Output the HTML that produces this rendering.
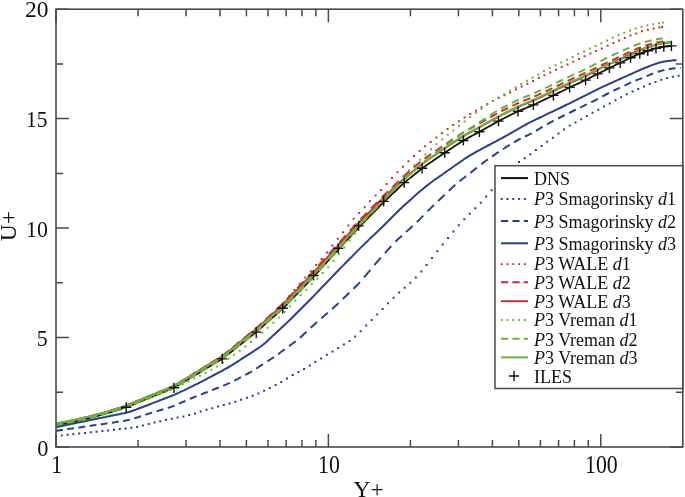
<!DOCTYPE html><html><head><meta charset="utf-8"><style>html,body{margin:0;padding:0;background:#fff;}svg{display:block;will-change:transform;}text{font-family:"Liberation Serif",serif;}</style></head><body>
<svg width="685" height="497" viewBox="0 0 685 497">
<rect width="685" height="497" fill="#fff"/>
<defs><clipPath id="c"><rect x="56.0" y="9.2" width="626.8" height="437.8"/></clipPath></defs>
<g clip-path="url(#c)">
<path d="M56.0,436.1h0M61.8,435.5h0M67.6,434.8h0M73.4,434.2h0M79.2,433.6h0M85.0,432.9h0M90.8,432.3h0M96.6,431.7h0M102.4,431.1h0M108.2,430.4h0M114.0,429.8h0M119.8,429.1h0M125.6,428.4h0M131.3,427.8h0M137.1,426.9h0M142.9,425.5h0M148.7,424.1h0M154.5,422.6h0M160.3,421.2h0M166.0,419.9h0M171.8,418.7h0M177.6,417.6h0M183.4,416.4h0M189.2,415.1h0M195.0,413.4h0M200.7,411.6h0M206.5,409.8h0M212.3,408.2h0M218.1,406.6h0M223.8,405.0h0M229.6,403.5h0M235.4,401.7h0M241.1,399.8h0M246.9,397.8h0M252.7,395.8h0M258.4,393.5h0M264.1,390.7h0M269.9,387.9h0M275.6,385.0h0M281.3,381.9h0M287.0,378.4h0M292.7,375.1h0M298.4,372.1h0M304.1,368.9h0M309.8,365.5h0M315.4,362.0h0M321.1,358.4h0M326.8,354.8h0M332.5,351.4h0M338.2,348.0h0M343.9,344.6h0M349.5,341.0h0M355.1,336.5h0M360.7,331.2h0M366.2,325.6h0M371.7,320.1h0M377.2,314.6h0M382.6,308.9h0M388.1,303.2h0M393.6,297.7h0M399.1,292.4h0M404.7,287.7h0M410.3,282.8h0M415.8,277.4h0M421.3,271.6h0M426.6,265.0h0M432.0,258.1h0M437.3,251.3h0M442.7,244.6h0M448.0,237.9h0M453.4,231.4h0M458.8,225.2h0M464.3,219.3h0M469.8,213.8h0M475.3,208.2h0M480.8,202.7h0M486.2,196.6h0M491.6,190.2h0M497.0,184.0h0M502.4,177.9h0M507.9,172.2h0M513.4,166.8h0M519.0,162.0h0M524.7,158.2h0M530.3,154.3h0M535.9,150.1h0M541.6,145.9h0M547.2,141.8h0M552.9,137.7h0M558.5,133.6h0M564.1,129.4h0M569.8,125.6h0M575.5,122.4h0M581.2,119.2h0M586.9,116.0h0M592.6,112.8h0M598.3,109.7h0M604.0,106.6h0M609.7,103.5h0M615.4,100.3h0M621.1,97.2h0M626.8,94.3h0M632.6,91.6h0M638.3,89.1h0M644.0,86.6h0M649.8,84.1h0M655.5,81.9h0M661.3,79.8h0M667.1,78.1h0M672.8,76.8h0M678.6,75.7h0" fill="none" stroke="#28418f" stroke-width="2.0" stroke-linecap="square"/>
<path d="M56.0,430.9 L58.0,430.6 L60.0,430.3 L62.0,430.0 L62.8,429.9 M67.2,429.3 L68.0,429.1 L70.0,428.8 L72.0,428.6 L74.0,428.3 M78.4,427.6 L80.0,427.4 L82.0,427.1 L84.0,426.8 L85.2,426.6 M89.6,426.0 L90.0,425.9 L92.0,425.6 L94.0,425.3 L96.0,425.0 L96.4,425.0 M100.7,424.3 L102.0,424.2 L104.0,423.9 L106.0,423.6 L107.5,423.3 M111.9,422.7 L112.0,422.7 L114.0,422.4 L116.0,422.1 L118.0,421.7 L118.7,421.6 M123.1,420.9 L124.0,420.8 L126.0,420.5 L128.0,420.1 L129.9,419.6 M134.3,418.4 L136.0,417.8 L138.0,417.2 L140.0,416.5 L141.0,416.2 M145.4,414.7 L146.0,414.5 L148.0,413.9 L150.0,413.3 L152.0,412.6 L152.2,412.6 M156.6,411.3 L158.0,410.9 L160.0,410.3 L162.0,409.7 L163.3,409.3 M167.7,408.0 L168.0,407.9 L170.0,407.3 L172.0,406.6 L174.0,405.8 L174.5,405.6 M178.8,403.7 L180.0,403.2 L182.0,402.3 L184.0,401.5 L185.5,400.8 M189.9,398.9 L190.0,398.9 L192.0,398.0 L194.0,397.2 L196.0,396.4 L196.6,396.2 M201.0,394.5 L202.0,394.1 L204.0,393.3 L206.0,392.5 L207.7,391.8 M212.1,390.1 L214.0,389.3 L216.0,388.5 L218.0,387.7 L218.8,387.4 M223.2,385.7 L224.0,385.4 L226.0,384.6 L228.0,383.7 L229.9,382.9 M234.3,380.7 L236.0,379.8 L238.0,378.8 L240.0,377.7 L241.0,377.2 M245.3,375.0 L246.0,374.6 L248.0,373.5 L250.0,372.4 L252.0,371.3 L252.0,371.3 M256.3,368.6 L258.0,367.5 L260.0,366.2 L262.0,364.9 L263.0,364.3 M267.3,361.4 L268.0,361.0 L270.0,359.7 L272.0,358.3 L273.9,357.1 M278.2,354.1 L280.0,352.8 L282.0,351.3 L284.0,349.8 L284.8,349.3 M289.1,346.1 L290.0,345.4 L292.0,344.0 L294.0,342.5 L295.7,341.2 M299.9,337.8 L300.0,337.7 L302.0,335.9 L304.0,334.1 L306.0,332.2 L306.4,331.8 M310.6,327.8 L312.0,326.5 L314.0,324.7 L316.0,322.9 L317.1,321.9 M321.3,318.3 L322.0,317.7 L324.0,316.0 L326.0,314.3 L327.9,312.7 M332.1,309.0 L334.0,307.3 L336.0,305.5 L338.0,303.6 L338.6,303.0 M342.8,299.0 L344.0,297.8 L346.0,295.9 L348.0,294.0 L349.3,292.7 M353.5,288.7 L354.0,288.2 L356.0,286.2 L358.0,284.2 L359.9,282.1 M364.0,277.4 L366.0,275.1 L368.0,272.7 L370.0,270.3 L370.3,269.9 M374.4,265.1 L376.0,263.2 L378.0,260.9 L380.0,258.6 L380.8,257.7 M384.9,253.1 L386.0,251.9 L388.0,249.7 L390.0,247.5 L391.3,246.1 M395.4,241.7 L396.0,241.2 L398.0,239.3 L400.0,237.4 L401.9,235.7 M406.1,231.9 L408.0,230.2 L410.0,228.4 L412.0,226.6 L412.7,226.0 M416.8,222.0 L418.0,220.9 L420.0,218.9 L422.0,216.9 L423.3,215.6 M427.5,211.4 L428.0,210.9 L430.0,208.9 L432.0,206.9 L433.9,205.0 M438.1,201.0 L440.0,199.2 L442.0,197.3 L444.0,195.4 L444.6,194.8 M448.8,190.8 L450.0,189.7 L452.0,187.8 L454.0,186.0 L455.3,184.8 M459.5,181.2 L460.0,180.9 L462.0,179.3 L464.0,177.8 L466.0,176.2 L466.1,176.2 M470.4,172.9 L472.0,171.6 L474.0,170.0 L476.0,168.4 L477.0,167.7 M481.2,164.3 L482.0,163.7 L484.0,162.1 L486.0,160.7 L487.8,159.4 M492.1,156.4 L494.0,155.1 L496.0,153.7 L498.0,152.4 L498.7,151.9 M503.0,149.1 L504.0,148.5 L506.0,147.2 L508.0,145.9 L509.7,144.9 M514.0,142.3 L514.0,142.3 L516.0,141.1 L518.0,140.0 L520.0,138.9 L520.7,138.5 M525.0,136.5 L526.0,136.0 L528.0,135.1 L530.0,134.2 L531.7,133.3 M536.1,130.8 L538.0,129.6 L540.0,128.4 L542.0,127.2 L542.7,126.8 M547.0,124.3 L548.0,123.8 L550.0,122.7 L552.0,121.6 L553.7,120.7 M558.1,118.5 L560.0,117.5 L562.0,116.5 L564.0,115.5 L564.8,115.1 M569.1,112.9 L570.0,112.5 L572.0,111.5 L574.0,110.5 L575.8,109.6 M580.2,107.5 L582.0,106.6 L584.0,105.7 L586.0,104.7 L586.9,104.3 M591.2,102.2 L592.0,101.8 L594.0,100.8 L596.0,99.8 L597.9,98.8 M602.3,96.5 L604.0,95.6 L606.0,94.5 L608.0,93.4 L609.0,92.9 M613.3,90.7 L614.0,90.4 L616.0,89.5 L618.0,88.6 L620.0,87.7 L620.0,87.7 M624.4,85.6 L626.0,84.9 L628.0,83.9 L630.0,82.9 L631.1,82.4 M635.5,80.6 L636.0,80.4 L638.0,79.6 L640.0,78.9 L642.0,78.1 L642.2,78.0 M646.6,76.2 L648.0,75.6 L650.0,74.7 L652.0,73.9 L653.3,73.4 M657.7,71.9 L658.0,71.8 L660.0,71.2 L662.0,70.6 L664.0,70.0 L664.4,69.9 M668.8,69.1 L670.0,68.9 L672.0,68.6 L674.0,68.4 L675.6,68.3 M680.0,68.0 L680.5,68.0" fill="none" stroke="#28418f" stroke-width="2.0" stroke-linejoin="round"/>
<path d="M56.0,427.1 L58.0,426.7 L60.0,426.3 L62.0,425.9 L64.0,425.5 L66.0,425.1 L68.0,424.6 L70.0,424.2 L72.0,423.8 L74.0,423.4 L76.0,423.0 L78.0,422.6 L80.0,422.2 L82.0,421.8 L84.0,421.4 L86.0,421.0 L88.0,420.5 L90.0,420.1 L92.0,419.7 L94.0,419.3 L96.0,418.9 L98.0,418.5 L100.0,418.1 L102.0,417.7 L104.0,417.3 L106.0,416.9 L108.0,416.4 L110.0,416.0 L112.0,415.6 L114.0,415.2 L116.0,414.8 L118.0,414.4 L120.0,414.0 L122.0,413.6 L124.0,413.2 L126.0,412.7 L128.0,412.3 L130.0,411.7 L132.0,411.0 L134.0,410.3 L136.0,409.6 L138.0,408.8 L140.0,408.0 L142.0,407.3 L144.0,406.5 L146.0,405.7 L148.0,405.0 L150.0,404.2 L152.0,403.4 L154.0,402.6 L156.0,401.9 L158.0,401.1 L160.0,400.3 L162.0,399.6 L164.0,398.8 L166.0,398.0 L168.0,397.3 L170.0,396.5 L172.0,395.7 L174.0,394.9 L176.0,394.0 L178.0,393.1 L180.0,392.2 L182.0,391.2 L184.0,390.3 L186.0,389.3 L188.0,388.3 L190.0,387.4 L192.0,386.4 L194.0,385.4 L196.0,384.4 L198.0,383.5 L200.0,382.4 L202.0,381.4 L204.0,380.4 L206.0,379.3 L208.0,378.2 L210.0,377.2 L212.0,376.1 L214.0,375.0 L216.0,374.0 L218.0,372.9 L220.0,371.8 L222.0,370.8 L224.0,369.7 L226.0,368.6 L228.0,367.5 L230.0,366.4 L232.0,365.2 L234.0,363.9 L236.0,362.6 L238.0,361.3 L240.0,360.0 L242.0,358.7 L244.0,357.4 L246.0,356.1 L248.0,354.8 L250.0,353.6 L252.0,352.3 L254.0,351.0 L256.0,349.7 L258.0,348.4 L260.0,347.0 L262.0,345.5 L264.0,343.9 L266.0,342.2 L268.0,340.3 L270.0,338.5 L272.0,336.6 L274.0,334.8 L276.0,332.9 L278.0,331.0 L280.0,329.2 L282.0,327.3 L284.0,325.4 L286.0,323.5 L288.0,321.6 L290.0,319.7 L292.0,317.8 L294.0,315.8 L296.0,313.8 L298.0,311.8 L300.0,309.8 L302.0,307.8 L304.0,305.8 L306.0,303.8 L308.0,301.8 L310.0,299.8 L312.0,297.7 L314.0,295.6 L316.0,293.6 L318.0,291.5 L320.0,289.4 L322.0,287.3 L324.0,285.2 L326.0,283.2 L328.0,281.1 L330.0,279.0 L332.0,276.9 L334.0,274.8 L336.0,272.8 L338.0,270.7 L340.0,268.6 L342.0,266.6 L344.0,264.6 L346.0,262.5 L348.0,260.5 L350.0,258.5 L352.0,256.5 L354.0,254.4 L356.0,252.4 L358.0,250.4 L360.0,248.4 L362.0,246.4 L364.0,244.4 L366.0,242.5 L368.0,240.6 L370.0,238.6 L372.0,236.8 L374.0,234.9 L376.0,233.0 L378.0,231.1 L380.0,229.2 L382.0,227.2 L384.0,225.3 L386.0,223.2 L388.0,221.2 L390.0,219.2 L392.0,217.2 L394.0,215.2 L396.0,213.2 L398.0,211.2 L400.0,209.2 L402.0,207.4 L404.0,205.5 L406.0,203.7 L408.0,201.9 L410.0,200.2 L412.0,198.4 L414.0,196.6 L416.0,194.8 L418.0,193.0 L420.0,191.3 L422.0,189.7 L424.0,188.0 L426.0,186.4 L428.0,184.9 L430.0,183.3 L432.0,181.8 L434.0,180.3 L436.0,178.9 L438.0,177.5 L440.0,176.1 L442.0,174.7 L444.0,173.3 L446.0,171.9 L448.0,170.5 L450.0,169.1 L452.0,167.7 L454.0,166.2 L456.0,164.8 L458.0,163.5 L460.0,162.1 L462.0,160.7 L464.0,159.3 L466.0,157.9 L468.0,156.7 L470.0,155.4 L472.0,154.3 L474.0,153.1 L476.0,152.0 L478.0,150.9 L480.0,149.8 L482.0,148.7 L484.0,147.6 L486.0,146.6 L488.0,145.5 L490.0,144.5 L492.0,143.4 L494.0,142.3 L496.0,141.3 L498.0,140.2 L500.0,139.2 L502.0,138.1 L504.0,137.0 L506.0,135.9 L508.0,134.8 L510.0,133.6 L512.0,132.5 L514.0,131.3 L516.0,130.2 L518.0,129.0 L520.0,127.9 L522.0,126.7 L524.0,125.6 L526.0,124.5 L528.0,123.4 L530.0,122.3 L532.0,121.3 L534.0,120.4 L536.0,119.4 L538.0,118.5 L540.0,117.5 L542.0,116.6 L544.0,115.6 L546.0,114.7 L548.0,113.7 L550.0,112.7 L552.0,111.8 L554.0,110.8 L556.0,109.9 L558.0,108.9 L560.0,108.0 L562.0,107.0 L564.0,106.0 L566.0,105.0 L568.0,104.1 L570.0,103.1 L572.0,102.1 L574.0,101.1 L576.0,100.1 L578.0,99.1 L580.0,98.2 L582.0,97.2 L584.0,96.2 L586.0,95.2 L588.0,94.2 L590.0,93.1 L592.0,92.1 L594.0,91.1 L596.0,90.1 L598.0,89.1 L600.0,88.1 L602.0,87.1 L604.0,86.2 L606.0,85.3 L608.0,84.4 L610.0,83.5 L612.0,82.6 L614.0,81.7 L616.0,80.8 L618.0,79.9 L620.0,79.0 L622.0,78.1 L624.0,77.2 L626.0,76.3 L628.0,75.4 L630.0,74.5 L632.0,73.6 L634.0,72.7 L636.0,71.8 L638.0,70.9 L640.0,70.0 L642.0,69.1 L644.0,68.3 L646.0,67.5 L648.0,66.7 L650.0,65.9 L652.0,65.1 L654.0,64.4 L656.0,63.7 L658.0,63.1 L660.0,62.5 L662.0,62.0 L664.0,61.6 L666.0,61.2 L668.0,60.9 L670.0,60.7 L672.0,60.5 L674.0,60.3 L676.0,60.2 L676.5,60.1" fill="none" stroke="#28418f" stroke-width="2.0" stroke-linejoin="round"/>
<path d="M56.0,425.1 L58.0,424.7 L60.0,424.3 L62.0,424.0 L64.0,423.6 L66.0,423.2 L68.0,422.8 L70.0,422.3 L72.0,421.9 L74.0,421.5 L76.0,421.1 L78.0,420.6 L80.0,420.2 L82.0,419.7 L84.0,419.2 L86.0,418.8 L88.0,418.3 L90.0,417.8 L92.0,417.3 L94.0,416.8 L96.0,416.3 L98.0,415.8 L100.0,415.2 L102.0,414.7 L104.0,414.1 L106.0,413.6 L108.0,413.0 L110.0,412.4 L112.0,411.8 L114.0,411.2 L116.0,410.6 L118.0,410.0 L120.0,409.3 L122.0,408.7 L124.0,408.0 L126.0,407.3 L128.0,406.5 L130.0,405.7 L132.0,404.9 L134.0,404.1 L136.0,403.3 L138.0,402.5 L140.0,401.7 L142.0,400.9 L144.0,400.0 L146.0,399.2 L148.0,398.4 L150.0,397.6 L152.0,396.8 L154.0,396.0 L156.0,395.1 L158.0,394.3 L160.0,393.5 L162.0,392.7 L164.0,391.9 L166.0,391.1 L168.0,390.2 L170.0,389.4 L172.0,388.6 L174.0,387.7 L176.0,386.6 L178.0,385.4 L180.0,384.2 L182.0,383.0 L184.0,381.8 L186.0,380.6 L188.0,379.4 L190.0,378.2 L192.0,377.0 L194.0,375.8 L196.0,374.6 L198.0,373.4 L200.0,372.2 L202.0,371.0 L204.0,369.8 L206.0,368.6 L208.0,367.4 L210.0,366.2 L212.0,365.0 L214.0,363.8 L216.0,362.6 L218.0,361.4 L220.0,360.2 L222.0,358.9 L224.0,357.4 L226.0,355.9 L228.0,354.3 L230.0,352.8 L232.0,351.2 L234.0,349.6 L236.0,348.0 L238.0,346.4 L240.0,344.9 L242.0,343.3 L244.0,341.7 L246.0,340.1 L248.0,338.6 L250.0,337.0 L252.0,335.4 L254.0,333.8 L256.0,332.2 L258.0,330.5 L260.0,328.7 L262.0,327.0 L264.0,325.2 L266.0,323.4 L268.0,321.7 L270.0,319.9 L272.0,318.1 L274.0,316.4 L276.0,314.6 L278.0,312.8 L280.0,311.1 L282.0,309.2 L284.0,307.3 L286.0,305.3 L288.0,303.2 L290.0,301.1 L292.0,299.1 L294.0,297.0 L296.0,294.9 L298.0,292.8 L300.0,290.8 L302.0,288.7 L304.0,286.6 L306.0,284.6 L308.0,282.5 L310.0,280.4 L312.0,278.3 L314.0,276.2 L316.0,274.0 L318.0,271.8 L320.0,269.6 L322.0,267.4 L324.0,265.3 L326.0,263.1 L328.0,260.9 L330.0,258.7 L332.0,256.5 L334.0,254.4 L336.0,252.2 L338.0,250.0 L340.0,247.8 L342.0,245.6 L344.0,243.4 L346.0,241.2 L348.0,239.0 L350.0,236.8 L352.0,234.6 L354.0,232.4 L356.0,230.3 L358.0,228.1 L360.0,226.0 L362.0,224.0 L364.0,222.0 L366.0,220.0 L368.0,218.0 L370.0,215.9 L372.0,213.9 L374.0,211.9 L376.0,209.9 L378.0,207.8 L380.0,205.8 L382.0,203.8 L384.0,201.8 L386.0,199.9 L388.0,198.0 L390.0,196.1 L392.0,194.2 L394.0,192.3 L396.0,190.5 L398.0,188.6 L400.0,186.7 L402.0,184.9 L404.0,183.1 L406.0,181.4 L408.0,179.7 L410.0,178.1 L412.0,176.5 L414.0,174.9 L416.0,173.2 L418.0,171.6 L420.0,170.0 L422.0,168.5 L424.0,167.0 L426.0,165.6 L428.0,164.2 L430.0,162.8 L432.0,161.5 L434.0,160.1 L436.0,158.7 L438.0,157.3 L440.0,155.9 L442.0,154.6 L444.0,153.2 L446.0,151.9 L448.0,150.5 L450.0,149.2 L452.0,147.9 L454.0,146.6 L456.0,145.3 L458.0,144.0 L460.0,142.7 L462.0,141.4 L464.0,140.2 L466.0,139.1 L468.0,138.0 L470.0,136.9 L472.0,135.8 L474.0,134.7 L476.0,133.6 L478.0,132.6 L480.0,131.5 L482.0,130.3 L484.0,129.2 L486.0,128.1 L488.0,127.0 L490.0,125.9 L492.0,124.7 L494.0,123.6 L496.0,122.5 L498.0,121.4 L500.0,120.4 L502.0,119.3 L504.0,118.3 L506.0,117.3 L508.0,116.3 L510.0,115.3 L512.0,114.3 L514.0,113.3 L516.0,112.3 L518.0,111.4 L520.0,110.5 L522.0,109.6 L524.0,108.8 L526.0,108.0 L528.0,107.1 L530.0,106.3 L532.0,105.5 L534.0,104.6 L536.0,103.7 L538.0,102.7 L540.0,101.8 L542.0,100.8 L544.0,99.9 L546.0,98.9 L548.0,98.0 L550.0,97.0 L552.0,96.1 L554.0,95.1 L556.0,94.1 L558.0,93.1 L560.0,92.1 L562.0,91.2 L564.0,90.2 L566.0,89.2 L568.0,88.2 L570.0,87.2 L572.0,86.3 L574.0,85.4 L576.0,84.5 L578.0,83.6 L580.0,82.7 L582.0,81.7 L584.0,80.8 L586.0,79.9 L588.0,78.9 L590.0,77.8 L592.0,76.8 L594.0,75.8 L596.0,74.8 L598.0,73.7 L600.0,72.7 L602.0,71.7 L604.0,70.7 L606.0,69.6 L608.0,68.6 L610.0,67.6 L612.0,66.7 L614.0,65.8 L616.0,64.8 L618.0,63.9 L620.0,63.0 L622.0,62.0 L624.0,61.0 L626.0,60.0 L628.0,59.0 L630.0,58.0 L632.0,57.1 L634.0,56.2 L636.0,55.4 L638.0,54.5 L640.0,53.7 L642.0,52.9 L644.0,52.2 L646.0,51.5 L648.0,50.8 L650.0,50.2 L652.0,49.6 L654.0,49.0 L656.0,48.4 L658.0,47.9 L660.0,47.5 L662.0,47.0 L664.0,46.7 L666.0,46.4 L668.0,46.2 L670.0,46.0 L671.4,45.9" fill="none" stroke="#111" stroke-width="1.8" stroke-linejoin="round"/>
<path d="M56.0,423.6h0M61.8,422.5h0M67.6,421.3h0M73.4,420.1h0M79.1,418.9h0M84.9,417.5h0M90.7,416.1h0M96.5,414.6h0M102.3,413.1h0M108.0,411.5h0M113.8,409.8h0M119.6,407.9h0M125.3,405.9h0M131.1,403.7h0M136.8,401.3h0M142.6,399.0h0M148.3,396.6h0M154.1,394.2h0M159.8,391.8h0M165.6,389.5h0M171.3,387.0h0M177.0,384.1h0M182.7,380.7h0M188.4,377.2h0M194.1,373.8h0M199.8,370.3h0M205.5,366.9h0M211.1,363.4h0M216.8,359.9h0M222.5,356.2h0M228.1,351.9h0M233.7,347.4h0M239.3,342.9h0M244.9,338.4h0M250.5,333.9h0M256.1,329.2h0M261.6,324.1h0M267.2,318.8h0M272.7,313.5h0M278.2,308.1h0M283.7,302.4h0M289.1,296.3h0M294.5,290.0h0M299.9,283.7h0M305.3,277.5h0M310.8,271.3h0M316.2,265.1h0M321.6,258.9h0M327.0,252.5h0M332.3,245.6h0M337.7,238.8h0M343.1,232.3h0M348.4,225.5h0M353.7,218.7h0M359.2,212.9h0M364.7,207.2h0M370.1,201.3h0M375.6,195.5h0M381.1,189.9h0M386.6,184.1h0M392.0,178.1h0M397.5,172.3h0M403.0,166.7h0M408.5,161.2h0M414.0,156.0h0M419.6,151.1h0M425.1,146.3h0M430.7,141.9h0M436.4,137.5h0M442.0,133.2h0M447.6,129.0h0M453.3,125.1h0M458.9,121.3h0M464.6,117.5h0M470.3,114.0h0M476.0,110.7h0M481.6,107.3h0M487.3,104.1h0M493.0,100.9h0M498.8,98.0h0M504.5,95.3h0M510.2,92.4h0M515.9,89.4h0M521.6,86.5h0M527.4,83.7h0M533.1,80.9h0M538.8,78.0h0M544.5,75.3h0M550.3,72.5h0M556.0,69.8h0M561.7,67.1h0M567.5,64.4h0M573.2,61.7h0M578.9,59.0h0M584.6,56.3h0M590.4,53.6h0M596.1,51.0h0M601.8,48.4h0M607.6,45.7h0M613.3,43.1h0M619.0,40.4h0M624.8,37.9h0M630.5,35.6h0M636.3,33.4h0M642.0,31.3h0M647.8,29.7h0M653.6,28.6h0M659.4,27.6h0M662.1,26.9h0" fill="none" stroke="#c92f30" stroke-width="2.0" stroke-linecap="square"/>
<path d="M56.0,423.9 L58.0,423.5 L60.0,423.1 L62.0,422.7 L62.8,422.5 M67.2,421.6 L68.0,421.5 L70.0,421.0 L72.0,420.6 L74.0,420.2 M78.3,419.2 L80.0,418.8 L82.0,418.3 L84.0,417.8 L85.1,417.6 M89.5,416.5 L90.0,416.4 L92.0,415.8 L94.0,415.3 L96.0,414.8 L96.3,414.7 M100.7,413.5 L102.0,413.2 L104.0,412.6 L106.0,412.0 L107.4,411.6 M111.8,410.3 L112.0,410.2 L114.0,409.6 L116.0,409.0 L118.0,408.3 L118.6,408.2 M122.9,406.7 L124.0,406.3 L126.0,405.6 L128.0,404.8 L129.7,404.1 M134.1,402.4 L136.0,401.5 L138.0,400.7 L140.0,399.9 L140.8,399.6 M145.1,397.8 L146.0,397.4 L148.0,396.6 L150.0,395.7 L151.9,395.0 M156.2,393.1 L158.0,392.4 L160.0,391.6 L162.0,390.8 L163.0,390.4 M167.3,388.5 L168.0,388.3 L170.0,387.4 L172.0,386.5 L174.0,385.5 L174.1,385.5 M178.4,383.1 L180.0,382.1 L182.0,380.8 L184.0,379.6 L185.0,379.0 M189.4,376.3 L190.0,375.9 L192.0,374.7 L194.0,373.4 L196.0,372.2 L196.0,372.2 M200.3,369.5 L202.0,368.5 L204.0,367.3 L206.0,366.0 L207.0,365.4 M211.3,362.8 L212.0,362.3 L214.0,361.1 L216.0,359.9 L218.0,358.6 M222.2,355.8 L224.0,354.5 L226.0,352.9 L228.0,351.3 L228.8,350.6 M233.1,347.1 L234.0,346.4 L236.0,344.7 L238.0,343.1 L239.6,341.8 M243.9,338.3 L244.0,338.2 L246.0,336.6 L248.0,334.9 L250.0,333.3 L250.4,332.9 M254.7,329.4 L256.0,328.3 L258.0,326.5 L260.0,324.7 L261.2,323.6 M265.4,319.7 L266.0,319.2 L268.0,317.4 L270.0,315.5 L271.9,313.8 M276.1,309.9 L278.0,308.1 L280.0,306.3 L282.0,304.3 L282.6,303.7 M286.8,299.5 L288.0,298.1 L290.0,296.0 L292.0,293.9 L293.2,292.6 M297.3,288.2 L298.0,287.4 L300.0,285.3 L302.0,283.2 L303.7,281.4 M307.9,277.0 L308.0,276.9 L310.0,274.8 L312.0,272.6 L314.0,270.5 L314.3,270.2 M318.4,265.6 L320.0,263.9 L322.0,261.7 L324.0,259.5 L324.8,258.6 M328.9,254.0 L330.0,252.8 L332.0,250.6 L334.0,248.4 L335.3,247.0 M339.4,242.4 L340.0,241.8 L342.0,239.6 L344.0,237.4 L345.8,235.3 M349.9,230.8 L350.0,230.7 L352.0,228.5 L354.0,226.3 L356.0,224.1 L356.3,223.7 M360.5,219.3 L362.0,217.7 L364.0,215.7 L366.0,213.6 L366.9,212.7 M371.1,208.5 L372.0,207.5 L374.0,205.5 L376.0,203.4 L377.5,201.9 M381.7,197.6 L382.0,197.3 L384.0,195.3 L386.0,193.3 L388.0,191.3 L388.1,191.2 M392.3,187.2 L394.0,185.6 L396.0,183.6 L398.0,181.7 L398.8,181.0 M403.0,177.0 L404.0,176.1 L406.0,174.2 L408.0,172.4 L409.5,171.1 M413.7,167.4 L414.0,167.2 L416.0,165.5 L418.0,163.8 L420.0,162.2 L420.3,161.9 M424.5,158.7 L426.0,157.6 L428.0,156.2 L430.0,154.8 L431.2,154.0 M435.4,151.1 L436.0,150.7 L438.0,149.3 L440.0,147.9 L442.0,146.6 L442.1,146.5 M446.4,143.6 L448.0,142.5 L450.0,141.2 L452.0,139.9 L453.0,139.3 M457.3,136.4 L458.0,136.0 L460.0,134.7 L462.0,133.4 L464.0,132.2 M468.3,129.7 L470.0,128.8 L472.0,127.7 L474.0,126.6 L475.0,126.0 M479.3,123.6 L480.0,123.2 L482.0,122.1 L484.0,120.9 L486.0,119.8 M490.3,117.3 L492.0,116.3 L494.0,115.2 L496.0,114.1 L497.0,113.5 M501.3,111.3 L502.0,110.9 L504.0,109.9 L506.0,109.0 L508.0,108.0 L508.0,108.0 M512.4,105.9 L514.0,105.1 L516.0,104.1 L518.0,103.2 L519.1,102.8 M523.4,101.0 L524.0,100.7 L526.0,99.9 L528.0,99.1 L530.0,98.3 L530.2,98.2 M534.5,96.4 L536.0,95.8 L538.0,94.9 L540.0,93.9 L541.3,93.4 M545.6,91.4 L546.0,91.2 L548.0,90.3 L550.0,89.3 L552.0,88.4 L552.3,88.2 M556.7,86.2 L558.0,85.5 L560.0,84.6 L562.0,83.6 L563.4,82.9 M567.7,80.9 L568.0,80.7 L570.0,79.8 L572.0,78.9 L574.0,78.0 L574.5,77.8 M578.8,75.9 L580.0,75.3 L582.0,74.4 L584.0,73.5 L585.5,72.8 M589.9,70.8 L590.0,70.7 L592.0,69.8 L594.0,68.8 L596.0,67.8 L596.6,67.5 M600.9,65.5 L602.0,65.0 L604.0,64.0 L606.0,63.1 L607.7,62.3 M612.0,60.3 L614.0,59.4 L616.0,58.5 L618.0,57.5 L618.7,57.2 M623.1,55.1 L624.0,54.6 L626.0,53.7 L628.0,52.7 L629.8,51.8 M634.1,49.9 L636.0,49.1 L638.0,48.2 L640.0,47.5 L640.9,47.1 M645.3,45.7 L646.0,45.4 L648.0,44.8 L650.0,44.3 L652.0,43.7 L652.0,43.7 M656.4,42.7 L658.0,42.3 L660.0,42.0 L662.0,41.6 L663.2,41.4" fill="none" stroke="#c92f30" stroke-width="2.0" stroke-linejoin="round"/>
<path d="M56.0,423.9 L58.0,423.5 L60.0,423.1 L62.0,422.7 L64.0,422.3 L66.0,421.9 L68.0,421.5 L70.0,421.1 L72.0,420.6 L74.0,420.2 L76.0,419.7 L78.0,419.3 L80.0,418.8 L82.0,418.4 L84.0,417.9 L86.0,417.4 L88.0,416.9 L90.0,416.4 L92.0,415.9 L94.0,415.4 L96.0,414.9 L98.0,414.3 L100.0,413.8 L102.0,413.2 L104.0,412.7 L106.0,412.1 L108.0,411.5 L110.0,410.9 L112.0,410.3 L114.0,409.7 L116.0,409.1 L118.0,408.4 L120.0,407.8 L122.0,407.1 L124.0,406.4 L126.0,405.7 L128.0,404.9 L130.0,404.1 L132.0,403.3 L134.0,402.5 L136.0,401.7 L138.0,400.8 L140.0,400.0 L142.0,399.2 L144.0,398.3 L146.0,397.5 L148.0,396.7 L150.0,395.9 L152.0,395.0 L154.0,394.2 L156.0,393.4 L158.0,392.6 L160.0,391.7 L162.0,390.9 L164.0,390.1 L166.0,389.3 L168.0,388.4 L170.0,387.6 L172.0,386.7 L174.0,385.7 L176.0,384.6 L178.0,383.5 L180.0,382.3 L182.0,381.0 L184.0,379.8 L186.0,378.6 L188.0,377.4 L190.0,376.2 L192.0,374.9 L194.0,373.7 L196.0,372.5 L198.0,371.3 L200.0,370.0 L202.0,368.8 L204.0,367.6 L206.0,366.4 L208.0,365.1 L210.0,363.9 L212.0,362.7 L214.0,361.5 L216.0,360.2 L218.0,359.0 L220.0,357.7 L222.0,356.4 L224.0,354.9 L226.0,353.4 L228.0,351.8 L230.0,350.2 L232.0,348.5 L234.0,346.9 L236.0,345.3 L238.0,343.7 L240.0,342.1 L242.0,340.5 L244.0,338.8 L246.0,337.2 L248.0,335.6 L250.0,334.0 L252.0,332.4 L254.0,330.7 L256.0,329.0 L258.0,327.3 L260.0,325.5 L262.0,323.7 L264.0,321.9 L266.0,320.1 L268.0,318.3 L270.0,316.5 L272.0,314.7 L274.0,312.9 L276.0,311.1 L278.0,309.3 L280.0,307.4 L282.0,305.5 L284.0,303.6 L286.0,301.5 L288.0,299.4 L290.0,297.3 L292.0,295.2 L294.0,293.1 L296.0,291.0 L298.0,288.9 L300.0,286.8 L302.0,284.7 L304.0,282.6 L306.0,280.5 L308.0,278.4 L310.0,276.3 L312.0,274.2 L314.0,272.1 L316.0,269.9 L318.0,267.7 L320.0,265.5 L322.0,263.3 L324.0,261.1 L326.0,258.9 L328.0,256.7 L330.0,254.5 L332.0,252.3 L334.0,250.1 L336.0,247.9 L338.0,245.7 L340.0,243.5 L342.0,241.3 L344.0,239.1 L346.0,236.9 L348.0,234.7 L350.0,232.5 L352.0,230.3 L354.0,228.1 L356.0,225.9 L358.0,223.8 L360.0,221.7 L362.0,219.6 L364.0,217.6 L366.0,215.6 L368.0,213.5 L370.0,211.5 L372.0,209.5 L374.0,207.4 L376.0,205.4 L378.0,203.4 L380.0,201.3 L382.0,199.3 L384.0,197.4 L386.0,195.4 L388.0,193.5 L390.0,191.6 L392.0,189.7 L394.0,187.8 L396.0,186.0 L398.0,184.1 L400.0,182.2 L402.0,180.4 L404.0,178.6 L406.0,176.9 L408.0,175.2 L410.0,173.6 L412.0,172.0 L414.0,170.4 L416.0,168.7 L418.0,167.1 L420.0,165.5 L422.0,164.0 L424.0,162.5 L426.0,161.1 L428.0,159.7 L430.0,158.3 L432.0,157.0 L434.0,155.6 L436.0,154.2 L438.0,152.8 L440.0,151.4 L442.0,150.1 L444.0,148.7 L446.0,147.4 L448.0,146.1 L450.0,144.7 L452.0,143.4 L454.0,142.1 L456.0,140.8 L458.0,139.5 L460.0,138.2 L462.0,137.0 L464.0,135.8 L466.0,134.6 L468.0,133.5 L470.0,132.4 L472.0,131.3 L474.0,130.2 L476.0,129.1 L478.0,128.1 L480.0,126.9 L482.0,125.8 L484.0,124.7 L486.0,123.6 L488.0,122.5 L490.0,121.4 L492.0,120.2 L494.0,119.1 L496.0,118.0 L498.0,116.9 L500.0,115.9 L502.0,114.9 L504.0,113.9 L506.0,112.9 L508.0,111.9 L510.0,110.9 L512.0,109.9 L514.0,108.9 L516.0,107.9 L518.0,107.0 L520.0,106.1 L522.0,105.3 L524.0,104.4 L526.0,103.6 L528.0,102.8 L530.0,102.0 L532.0,101.1 L534.0,100.2 L536.0,99.3 L538.0,98.4 L540.0,97.5 L542.0,96.5 L544.0,95.6 L546.0,94.6 L548.0,93.7 L550.0,92.8 L552.0,91.8 L554.0,90.9 L556.0,89.9 L558.0,88.9 L560.0,87.9 L562.0,87.0 L564.0,86.0 L566.0,85.0 L568.0,84.1 L570.0,83.1 L572.0,82.2 L574.0,81.3 L576.0,80.4 L578.0,79.5 L580.0,78.6 L582.0,77.6 L584.0,76.7 L586.0,75.8 L588.0,74.8 L590.0,73.8 L592.0,72.8 L594.0,71.8 L596.0,70.8 L598.0,69.7 L600.0,68.7 L602.0,67.7 L604.0,66.7 L606.0,65.7 L608.0,64.7 L610.0,63.7 L612.0,62.8 L614.0,61.9 L616.0,61.0 L618.0,60.0 L620.0,59.1 L622.0,58.1 L624.0,57.2 L626.0,56.2 L628.0,55.2 L630.0,54.3 L632.0,53.4 L634.0,52.5 L636.0,51.6 L638.0,50.8 L640.0,50.0 L642.0,49.2 L644.0,48.5 L646.0,47.8 L648.0,47.2 L650.0,46.5 L652.0,46.0 L654.0,45.4 L656.0,44.9 L658.0,44.4 L660.0,43.9 L662.0,43.5 L664.0,43.2 L666.0,42.9 L668.0,42.7 L670.0,42.5 L671.0,42.4" fill="none" stroke="#c92f30" stroke-width="2.0" stroke-linejoin="round"/>
<path d="M56.0,424.5h0M61.8,423.4h0M67.6,422.2h0M73.4,421.0h0M79.1,419.8h0M84.9,418.4h0M90.7,417.0h0M96.5,415.5h0M102.3,414.0h0M108.0,412.4h0M113.8,410.7h0M119.6,409.0h0M125.4,407.1h0M131.1,405.0h0M136.9,402.8h0M142.6,400.6h0M148.4,398.4h0M154.1,396.2h0M159.9,393.9h0M165.6,391.7h0M171.4,389.5h0M177.1,387.0h0M182.8,384.2h0M188.6,381.4h0M194.3,378.6h0M200.0,375.8h0M205.7,372.9h0M211.4,369.8h0M217.1,366.5h0M222.8,362.6h0M228.4,358.7h0M234.1,354.7h0M239.7,350.7h0M245.4,346.6h0M251.0,342.1h0M256.6,337.5h0M262.1,332.8h0M267.7,327.8h0M273.3,322.7h0M278.8,317.5h0M284.3,312.1h0M289.8,306.5h0M295.3,300.8h0M300.8,295.2h0M306.3,289.7h0M311.8,284.1h0M317.3,278.6h0M322.7,272.9h0M328.2,267.2h0M333.6,261.0h0M339.0,254.3h0M344.3,247.5h0M349.6,240.5h0M355.0,233.6h0M360.3,226.6h0M365.6,219.7h0M370.9,213.0h0M376.3,206.4h0M381.7,200.0h0M387.1,193.5h0M392.5,187.4h0M398.0,181.5h0M403.4,175.7h0M409.0,170.3h0M414.5,165.0h0M420.0,159.7h0M425.5,154.5h0M431.1,149.3h0M436.6,144.3h0M442.2,139.4h0M447.8,134.8h0M453.4,130.4h0M459.0,125.9h0M464.6,121.5h0M470.2,117.0h0M475.9,112.8h0M481.5,108.7h0M487.1,104.7h0M492.8,101.0h0M498.5,97.6h0M504.2,94.2h0M509.9,90.8h0M515.6,87.4h0M521.2,84.1h0M526.9,80.8h0M532.6,77.6h0M538.3,74.4h0M544.0,71.1h0M549.8,68.1h0M555.5,65.3h0M561.2,62.5h0M566.9,59.7h0M572.6,56.9h0M578.4,54.1h0M584.1,51.4h0M589.8,48.6h0M595.6,45.9h0M601.3,43.2h0M607.0,40.5h0M612.7,37.8h0M618.5,35.1h0M624.2,32.7h0M630.0,30.6h0M635.7,28.6h0M641.5,26.8h0M647.3,25.3h0M653.1,24.2h0M658.9,23.3h0M663.0,22.6h0" fill="none" stroke="#6cb23c" stroke-width="2.0" stroke-linecap="square"/>
<path d="M56.0,425.1 L58.0,424.7 L60.0,424.3 L62.0,423.9 L62.8,423.8 M67.2,422.9 L68.0,422.7 L70.0,422.3 L72.0,421.9 L74.0,421.5 M78.3,420.5 L80.0,420.1 L82.0,419.7 L84.0,419.2 L85.1,418.9 M89.5,417.9 L90.0,417.7 L92.0,417.2 L94.0,416.7 L96.0,416.2 L96.3,416.1 M100.7,415.0 L102.0,414.6 L104.0,414.1 L106.0,413.5 L107.4,413.1 M111.8,411.8 L112.0,411.7 L114.0,411.1 L116.0,410.5 L118.0,409.9 L118.6,409.7 M123.0,408.3 L124.0,407.9 L126.0,407.2 L128.0,406.4 L129.7,405.8 M134.1,404.0 L136.0,403.2 L138.0,402.4 L140.0,401.6 L140.8,401.2 M145.2,399.4 L146.0,399.1 L148.0,398.3 L150.0,397.5 L151.9,396.7 M156.3,394.9 L158.0,394.2 L160.0,393.4 L162.0,392.5 L163.0,392.1 M167.4,390.4 L168.0,390.1 L170.0,389.3 L172.0,388.4 L174.0,387.4 L174.1,387.4 M178.4,385.0 L180.0,384.0 L182.0,382.8 L184.0,381.6 L185.1,381.0 M189.4,378.4 L190.0,378.0 L192.0,376.8 L194.0,375.6 L196.0,374.4 L196.1,374.4 M200.4,371.8 L202.0,370.8 L204.0,369.6 L206.0,368.4 L207.0,367.8 M211.4,365.2 L212.0,364.8 L214.0,363.6 L216.0,362.4 L218.0,361.2 L218.0,361.2 M222.3,358.4 L224.0,357.2 L226.0,355.6 L228.0,354.1 L228.9,353.4 M233.2,350.0 L234.0,349.4 L236.0,347.8 L238.0,346.2 L239.7,344.8 M244.0,341.5 L246.0,339.9 L248.0,338.3 L250.0,336.7 L250.6,336.3 M254.8,332.8 L256.0,331.9 L258.0,330.2 L260.0,328.4 L261.4,327.2 M265.6,323.5 L266.0,323.1 L268.0,321.4 L270.0,319.6 L272.0,317.8 L272.1,317.7 M276.3,314.0 L278.0,312.5 L280.0,310.7 L282.0,308.8 L282.8,308.0 M287.0,303.9 L288.0,302.9 L290.0,300.8 L292.0,298.7 L293.4,297.2 M297.6,292.9 L298.0,292.5 L300.0,290.4 L302.0,288.4 L304.0,286.3 L304.0,286.3 M308.2,281.9 L310.0,280.0 L312.0,277.9 L314.0,275.8 L314.6,275.1 M318.7,270.6 L320.0,269.3 L322.0,267.1 L324.0,264.9 L325.1,263.7 M329.3,259.1 L330.0,258.3 L332.0,256.1 L334.0,254.0 L335.6,252.2 M339.8,247.6 L340.0,247.3 L342.0,245.1 L344.0,242.8 L346.0,240.6 L346.1,240.4 M350.3,235.7 L352.0,233.8 L354.0,231.5 L356.0,229.2 L356.6,228.6 M360.8,224.1 L362.0,222.7 L364.0,220.6 L366.0,218.5 L367.2,217.3 M371.3,212.9 L372.0,212.2 L374.0,210.1 L376.0,208.0 L377.7,206.2 M381.9,201.8 L382.0,201.7 L384.0,199.6 L386.0,197.5 L388.0,195.4 L388.3,195.1 M392.5,190.8 L394.0,189.3 L396.0,187.3 L398.0,185.2 L398.9,184.3 M403.1,180.2 L404.0,179.3 L406.0,177.4 L408.0,175.6 L409.6,174.2 M413.8,170.5 L414.0,170.3 L416.0,168.5 L418.0,166.8 L420.0,165.1 L420.3,164.8 M424.6,161.3 L426.0,160.3 L428.0,158.7 L430.0,157.2 L431.2,156.3 M435.5,153.1 L436.0,152.7 L438.0,151.2 L440.0,149.7 L442.0,148.2 L442.1,148.2 M446.3,145.0 L448.0,143.8 L450.0,142.3 L452.0,140.9 L452.9,140.2 M457.2,137.1 L458.0,136.6 L460.0,135.1 L462.0,133.7 L463.8,132.5 M468.1,129.6 L470.0,128.4 L472.0,127.1 L474.0,125.8 L474.8,125.3 M479.1,122.5 L480.0,121.9 L482.0,120.6 L484.0,119.3 L485.7,118.2 M490.0,115.4 L492.0,114.0 L494.0,112.7 L496.0,111.5 L496.7,111.0 M501.0,108.6 L502.0,108.0 L504.0,107.0 L506.0,106.0 L507.7,105.1 M512.0,102.9 L514.0,101.9 L516.0,100.9 L518.0,100.0 L518.7,99.7 M523.1,97.8 L524.0,97.4 L526.0,96.6 L528.0,95.8 L529.8,95.0 M534.2,93.2 L536.0,92.3 L538.0,91.4 L540.0,90.5 L540.9,90.1 M545.3,88.0 L546.0,87.7 L548.0,86.8 L550.0,85.8 L552.0,84.9 M556.3,82.8 L558.0,82.0 L560.0,81.0 L562.0,80.1 L563.0,79.6 M567.4,77.5 L568.0,77.2 L570.0,76.3 L572.0,75.3 L574.0,74.4 L574.1,74.4 M578.5,72.4 L580.0,71.8 L582.0,70.8 L584.0,69.9 L585.2,69.4 M589.5,67.2 L590.0,66.9 L592.0,65.9 L594.0,64.8 L596.0,63.7 L596.2,63.6 M600.5,61.3 L602.0,60.5 L604.0,59.4 L606.0,58.3 L607.2,57.7 M611.6,55.6 L612.0,55.4 L614.0,54.5 L616.0,53.6 L618.0,52.8 L618.3,52.6 M622.7,50.7 L624.0,50.1 L626.0,49.2 L628.0,48.3 L629.4,47.7 M633.7,45.9 L634.0,45.8 L636.0,45.0 L638.0,44.2 L640.0,43.5 L640.5,43.4 M644.9,42.0 L646.0,41.7 L648.0,41.2 L650.0,40.7 L651.6,40.3 M656.0,39.4 L658.0,39.0 L660.0,38.7 L662.0,38.4 L662.8,38.3" fill="none" stroke="#6cb23c" stroke-width="2.0" stroke-linejoin="round"/>
<path d="M56.0,423.5 L58.0,423.1 L60.0,422.7 L62.0,422.3 L64.0,421.9 L66.0,421.5 L68.0,421.1 L70.0,420.7 L72.0,420.3 L74.0,419.9 L76.0,419.4 L78.0,419.0 L80.0,418.5 L82.0,418.1 L84.0,417.6 L86.0,417.1 L88.0,416.6 L90.0,416.1 L92.0,415.6 L94.0,415.1 L96.0,414.6 L98.0,414.1 L100.0,413.6 L102.0,413.0 L104.0,412.5 L106.0,411.9 L108.0,411.3 L110.0,410.7 L112.0,410.1 L114.0,409.5 L116.0,408.9 L118.0,408.3 L120.0,407.6 L122.0,407.0 L124.0,406.3 L126.0,405.6 L128.0,404.8 L130.0,404.0 L132.0,403.2 L134.0,402.4 L136.0,401.6 L138.0,400.8 L140.0,400.0 L142.0,399.1 L144.0,398.3 L146.0,397.5 L148.0,396.7 L150.0,395.9 L152.0,395.0 L154.0,394.2 L156.0,393.4 L158.0,392.6 L160.0,391.8 L162.0,390.9 L164.0,390.1 L166.0,389.3 L168.0,388.5 L170.0,387.7 L172.0,386.8 L174.0,385.8 L176.0,384.7 L178.0,383.6 L180.0,382.4 L182.0,381.2 L184.0,380.0 L186.0,378.8 L188.0,377.6 L190.0,376.4 L192.0,375.2 L194.0,374.0 L196.0,372.8 L198.0,371.6 L200.0,370.4 L202.0,369.2 L204.0,368.0 L206.0,366.8 L208.0,365.6 L210.0,364.4 L212.0,363.2 L214.0,361.9 L216.0,360.7 L218.0,359.5 L220.0,358.3 L222.0,356.9 L224.0,355.5 L226.0,354.0 L228.0,352.4 L230.0,350.8 L232.0,349.2 L234.0,347.7 L236.0,346.1 L238.0,344.5 L240.0,342.9 L242.0,341.3 L244.0,339.7 L246.0,338.2 L248.0,336.6 L250.0,335.0 L252.0,333.4 L254.0,331.8 L256.0,330.1 L258.0,328.4 L260.0,326.7 L262.0,324.9 L264.0,323.2 L266.0,321.4 L268.0,319.6 L270.0,317.8 L272.0,316.0 L274.0,314.3 L276.0,312.5 L278.0,310.7 L280.0,308.9 L282.0,307.0 L284.0,305.1 L286.0,303.1 L288.0,301.0 L290.0,299.0 L292.0,296.9 L294.0,294.8 L296.0,292.7 L298.0,290.7 L300.0,288.6 L302.0,286.5 L304.0,284.4 L306.0,282.3 L308.0,280.3 L310.0,278.2 L312.0,276.0 L314.0,273.9 L316.0,271.7 L318.0,269.6 L320.0,267.4 L322.0,265.2 L324.0,263.0 L326.0,260.8 L328.0,258.6 L330.0,256.4 L332.0,254.3 L334.0,252.1 L336.0,249.9 L338.0,247.7 L340.0,245.5 L342.0,243.3 L344.0,241.1 L346.0,238.9 L348.0,236.7 L350.0,234.5 L352.0,232.3 L354.0,230.1 L356.0,227.9 L358.0,225.8 L360.0,223.7 L362.0,221.7 L364.0,219.6 L366.0,217.6 L368.0,215.6 L370.0,213.6 L372.0,211.5 L374.0,209.5 L376.0,207.5 L378.0,205.4 L380.0,203.4 L382.0,201.3 L384.0,199.3 L386.0,197.3 L388.0,195.3 L390.0,193.3 L392.0,191.3 L394.0,189.4 L396.0,187.4 L398.0,185.5 L400.0,183.5 L402.0,181.6 L404.0,179.7 L406.0,178.0 L408.0,176.2 L410.0,174.5 L412.0,172.8 L414.0,171.1 L416.0,169.4 L418.0,167.7 L420.0,166.1 L422.0,164.5 L424.0,162.9 L426.0,161.5 L428.0,160.0 L430.0,158.6 L432.0,157.2 L434.0,155.7 L436.0,154.3 L438.0,152.9 L440.0,151.4 L442.0,150.0 L444.0,148.6 L446.0,147.3 L448.0,145.9 L450.0,144.6 L452.0,143.3 L454.0,142.0 L456.0,140.7 L458.0,139.4 L460.0,138.1 L462.0,136.8 L464.0,135.6 L466.0,134.4 L468.0,133.3 L470.0,132.2 L472.0,131.1 L474.0,130.0 L476.0,128.9 L478.0,127.8 L480.0,126.7 L482.0,125.6 L484.0,124.5 L486.0,123.3 L488.0,122.2 L490.0,121.1 L492.0,120.0 L494.0,118.8 L496.0,117.7 L498.0,116.6 L500.0,115.6 L502.0,114.5 L504.0,113.5 L506.0,112.5 L508.0,111.5 L510.0,110.5 L512.0,109.5 L514.0,108.5 L516.0,107.5 L518.0,106.5 L520.0,105.6 L522.0,104.8 L524.0,103.9 L526.0,103.1 L528.0,102.2 L530.0,101.4 L532.0,100.5 L534.0,99.6 L536.0,98.7 L538.0,97.8 L540.0,96.8 L542.0,95.9 L544.0,94.9 L546.0,94.0 L548.0,93.0 L550.0,92.0 L552.0,91.1 L554.0,90.1 L556.0,89.2 L558.0,88.2 L560.0,87.2 L562.0,86.2 L564.0,85.3 L566.0,84.3 L568.0,83.3 L570.0,82.4 L572.0,81.5 L574.0,80.6 L576.0,79.7 L578.0,78.8 L580.0,77.9 L582.0,77.0 L584.0,76.1 L586.0,75.2 L588.0,74.2 L590.0,73.2 L592.0,72.2 L594.0,71.2 L596.0,70.2 L598.0,69.3 L600.0,68.3 L602.0,67.4 L604.0,66.5 L606.0,65.6 L608.0,64.7 L610.0,63.8 L612.0,63.0 L614.0,62.2 L616.0,61.4 L618.0,60.6 L620.0,59.8 L622.0,58.9 L624.0,58.1 L626.0,57.2 L628.0,56.3 L630.0,55.4 L632.0,54.5 L634.0,53.5 L636.0,52.6 L638.0,51.6 L640.0,50.7 L642.0,49.8 L644.0,49.0 L646.0,48.2 L648.0,47.4 L650.0,46.7 L652.0,46.1 L654.0,45.4 L656.0,44.8 L658.0,44.3 L660.0,43.8 L662.0,43.3 L664.0,42.9 L666.0,42.6 L668.0,42.3 L670.0,42.1 L671.8,41.9" fill="none" stroke="#6cb23c" stroke-width="2.0" stroke-linejoin="round"/>
<path d="M121.1,407.3 H131.3 M126.2,402.2 V412.4" stroke="#111" stroke-width="1.4" fill="none"/>
<path d="M168.9,387.8 H179.1 M174.0,382.7 V392.9" stroke="#111" stroke-width="1.4" fill="none"/>
<path d="M217.1,358.9 H227.3 M222.2,353.8 V364.0" stroke="#111" stroke-width="1.4" fill="none"/>
<path d="M251.1,332.1 H261.3 M256.2,327.0 V337.2" stroke="#111" stroke-width="1.4" fill="none"/>
<path d="M277.6,308.3 H287.8 M282.7,303.2 V313.4" stroke="#111" stroke-width="1.4" fill="none"/>
<path d="M308.4,275.5 H318.6 M313.5,270.4 V280.6" stroke="#111" stroke-width="1.4" fill="none"/>
<path d="M333.1,248.4 H343.3 M338.2,243.3 V253.5" stroke="#111" stroke-width="1.4" fill="none"/>
<path d="M353.5,225.9 H363.7 M358.6,220.8 V231.0" stroke="#111" stroke-width="1.4" fill="none"/>
<path d="M378.6,201.4 H388.8 M383.7,196.3 V206.5" stroke="#111" stroke-width="1.4" fill="none"/>
<path d="M399.1,182.6 H409.3 M404.2,177.5 V187.7" stroke="#111" stroke-width="1.4" fill="none"/>
<path d="M417.0,168.3 H427.2 M422.1,163.2 V173.4" stroke="#111" stroke-width="1.4" fill="none"/>
<path d="M439.6,152.7 H449.8 M444.7,147.6 V157.8" stroke="#111" stroke-width="1.4" fill="none"/>
<path d="M458.3,140.5 H468.5 M463.4,135.4 V145.6" stroke="#111" stroke-width="1.4" fill="none"/>
<path d="M474.3,131.8 H484.5 M479.4,126.7 V136.9" stroke="#111" stroke-width="1.4" fill="none"/>
<path d="M493.4,121.1 H503.6 M498.5,116.0 V126.2" stroke="#111" stroke-width="1.4" fill="none"/>
<path d="M512.9,111.3 H523.1 M518.0,106.2 V116.4" stroke="#111" stroke-width="1.4" fill="none"/>
<path d="M528.3,104.9 H538.5 M533.4,99.8 V110.0" stroke="#111" stroke-width="1.4" fill="none"/>
<path d="M548.3,95.4 H558.5 M553.4,90.3 V100.5" stroke="#111" stroke-width="1.4" fill="none"/>
<path d="M564.5,87.4 H574.7 M569.6,82.3 V92.5" stroke="#111" stroke-width="1.4" fill="none"/>
<path d="M580.5,80.1 H590.7 M585.6,75.0 V85.2" stroke="#111" stroke-width="1.4" fill="none"/>
<path d="M592.6,73.9 H602.8 M597.7,68.8 V79.0" stroke="#111" stroke-width="1.4" fill="none"/>
<path d="M604.3,67.9 H614.5 M609.4,62.8 V73.0" stroke="#111" stroke-width="1.4" fill="none"/>
<path d="M615.1,62.9 H625.3 M620.2,57.8 V68.0" stroke="#111" stroke-width="1.4" fill="none"/>
<path d="M625.5,57.7 H635.7 M630.6,52.6 V62.8" stroke="#111" stroke-width="1.4" fill="none"/>
<path d="M634.7,53.7 H644.9 M639.8,48.6 V58.8" stroke="#111" stroke-width="1.4" fill="none"/>
<path d="M642.7,50.8 H652.9 M647.8,45.7 V55.9" stroke="#111" stroke-width="1.4" fill="none"/>
<path d="M650.9,48.4 H661.1 M656.0,43.3 V53.5" stroke="#111" stroke-width="1.4" fill="none"/>
<path d="M658.7,46.6 H668.9 M663.8,41.5 V51.7" stroke="#111" stroke-width="1.4" fill="none"/>
<path d="M666.3,45.9 H676.5 M671.4,40.8 V51.0" stroke="#111" stroke-width="1.4" fill="none"/>
</g>
<path d="M56.0,447.0 v-13 M56.0,9.2 v13 M138.0,447.0 v-7 M138.0,9.2 v7 M186.0,447.0 v-7 M186.0,9.2 v7 M220.0,447.0 v-7 M220.0,9.2 v7 M246.4,447.0 v-7 M246.4,9.2 v7 M268.0,447.0 v-7 M268.0,9.2 v7 M286.2,447.0 v-7 M286.2,9.2 v7 M302.0,447.0 v-7 M302.0,9.2 v7 M315.9,447.0 v-7 M315.9,9.2 v7 M328.4,447.0 v-13 M328.4,9.2 v13 M410.4,447.0 v-7 M410.4,9.2 v7 M458.4,447.0 v-7 M458.4,9.2 v7 M492.4,447.0 v-7 M492.4,9.2 v7 M518.8,447.0 v-7 M518.8,9.2 v7 M540.4,447.0 v-7 M540.4,9.2 v7 M558.6,447.0 v-7 M558.6,9.2 v7 M574.4,447.0 v-7 M574.4,9.2 v7 M588.3,447.0 v-7 M588.3,9.2 v7 M600.8,447.0 v-13 M600.8,9.2 v13 M56.0,447.0 h13 M682.8,447.0 h-13 M56.0,337.6 h13 M682.8,337.6 h-13 M56.0,228.1 h13 M682.8,228.1 h-13 M56.0,118.6 h13 M682.8,118.6 h-13 M56.0,9.2 h13 M682.8,9.2 h-13 M56.0,392.3 h7 M682.8,392.3 h-7 M56.0,282.8 h7 M682.8,282.8 h-7 M56.0,173.4 h7 M682.8,173.4 h-7 M56.0,63.9 h7 M682.8,63.9 h-7" stroke="#4a4a4a" stroke-width="1.5" fill="none"/>
<rect x="495.0" y="165.7" width="187.79999999999995" height="222.8" fill="#fff" stroke="#4a4a4a" stroke-width="1.5"/>
<path d="M501,178.1 H528" stroke="#111" stroke-width="2.0" fill="none"/>
<text x="534" y="184.9" font-size="18" fill="#111">DNS</text>
<path d="M501.7,199.0 H527" stroke="#28418f" stroke-width="1.9" stroke-dasharray="0,5.8" stroke-linecap="square" fill="none"/>
<text x="534" y="205.3" font-size="18" fill="#111"><tspan font-style="italic">P</tspan>3 Smagorinsky <tspan font-style="italic">d</tspan>1</text>
<path d="M501,221.1 H528" stroke="#28418f" stroke-width="2.0" stroke-dasharray="7.2,4.2" fill="none"/>
<text x="534" y="227.9" font-size="18" fill="#111"><tspan font-style="italic">P</tspan>3 Smagorinsky <tspan font-style="italic">d</tspan>2</text>
<path d="M501,243.3 H528" stroke="#28418f" stroke-width="2.0" fill="none"/>
<text x="534" y="250.1" font-size="18" fill="#111"><tspan font-style="italic">P</tspan>3 Smagorinsky <tspan font-style="italic">d</tspan>3</text>
<path d="M501.7,264.1 H527" stroke="#c92f30" stroke-width="1.9" stroke-dasharray="0,5.8" stroke-linecap="square" fill="none"/>
<text x="534" y="270.4" font-size="18" fill="#111"><tspan font-style="italic">P</tspan>3 WALE <tspan font-style="italic">d</tspan>1</text>
<path d="M501,282.3 H528" stroke="#c92f30" stroke-width="2.0" stroke-dasharray="7.2,4.2" fill="none"/>
<text x="534" y="289.1" font-size="18" fill="#111"><tspan font-style="italic">P</tspan>3 WALE <tspan font-style="italic">d</tspan>2</text>
<path d="M501,301.2 H528" stroke="#c92f30" stroke-width="2.0" fill="none"/>
<text x="534" y="308.0" font-size="18" fill="#111"><tspan font-style="italic">P</tspan>3 WALE <tspan font-style="italic">d</tspan>3</text>
<path d="M501.7,320.0 H527" stroke="#6cb23c" stroke-width="1.9" stroke-dasharray="0,5.8" stroke-linecap="square" fill="none"/>
<text x="534" y="326.3" font-size="18" fill="#111"><tspan font-style="italic">P</tspan>3 Vreman <tspan font-style="italic">d</tspan>1</text>
<path d="M501,338.8 H528" stroke="#6cb23c" stroke-width="2.0" stroke-dasharray="7.2,4.2" fill="none"/>
<text x="534" y="345.6" font-size="18" fill="#111"><tspan font-style="italic">P</tspan>3 Vreman <tspan font-style="italic">d</tspan>2</text>
<path d="M501,357.4 H528" stroke="#6cb23c" stroke-width="2.0" fill="none"/>
<text x="534" y="364.2" font-size="18" fill="#111"><tspan font-style="italic">P</tspan>3 Vreman <tspan font-style="italic">d</tspan>3</text>
<path d="M509.0,376.0 H519.0 M514.0,371.0 V381.0" stroke="#111" stroke-width="1.4" fill="none"/>
<text x="534" y="382.8" font-size="18" fill="#111">ILES</text>
<rect x="56.0" y="9.2" width="626.8" height="437.8" fill="none" stroke="#4a4a4a" stroke-width="1.6"/>
<text transform="translate(48.4,455.6) scale(0.95,1.02)" font-size="23.5" text-anchor="end" fill="#111">0</text>
<text transform="translate(47.8,345.9) scale(0.93,1.02)" font-size="23.5" text-anchor="end" fill="#111">5</text>
<text transform="translate(47.8,236.7) scale(0.93,1.02)" font-size="23.5" text-anchor="end" fill="#111">10</text>
<text transform="translate(47.4,126.9) scale(0.91,1.02)" font-size="23.5" text-anchor="end" fill="#111">15</text>
<text transform="translate(48.4,16.5) scale(1.0,1.02)" font-size="23.5" text-anchor="end" fill="#111">20</text>
<text transform="translate(56.6,472.6) scale(0.93,1.05)" font-size="23.5" text-anchor="middle" fill="#111">1</text>
<text transform="translate(329.0,472.6) scale(0.93,1.05)" font-size="23.5" text-anchor="middle" fill="#111">10</text>
<text transform="translate(601.4,472.6) scale(0.93,1.05)" font-size="23.5" text-anchor="middle" fill="#111">100</text>
<text x="368.6" y="496.6" font-size="23.5" text-anchor="middle" fill="#111">Y+</text>
<text transform="translate(15.6,226.2) rotate(-90)" x="0" y="0" font-size="23.5" text-anchor="middle" fill="#111">U+</text>
</svg></body></html>
